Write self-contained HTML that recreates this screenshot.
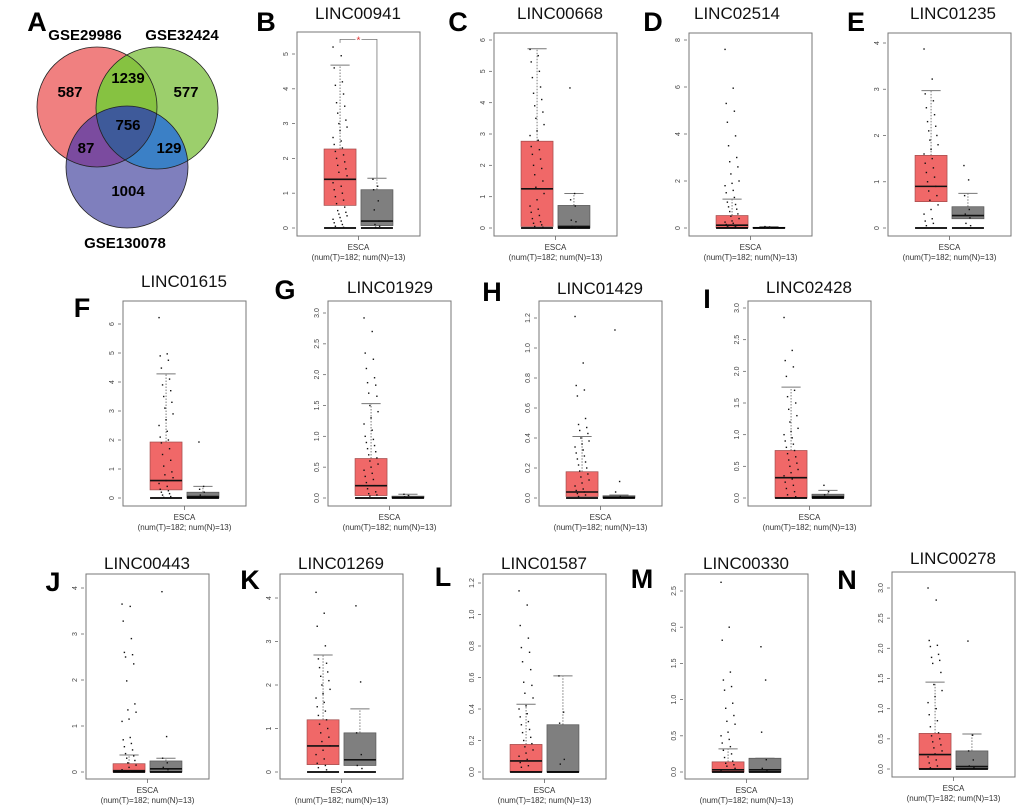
<!DOCTYPE html>
<html><head><meta charset="utf-8"><title>Venn and box plots of LINC genes in ESCA</title>
<style>
html,body{margin:0;padding:0;background:#fff;}
svg{display:block;font-family:"Liberation Sans",Arial,sans-serif;}
</style></head>
<body>
<svg id="fig" width="1020" height="808" viewBox="0 0 1020 808" xmlns="http://www.w3.org/2000/svg">
  <defs>
    <clipPath id="cR"><circle cx="97" cy="107" r="60"/></clipPath>
    <clipPath id="cG"><circle cx="157" cy="108" r="61"/></clipPath>
    <clipPath id="cB"><circle cx="127" cy="167" r="61"/></clipPath>
  </defs>
  <g>
    <text x="37" y="31" font-size="27" font-weight="bold" text-anchor="middle">A</text>
    <circle cx="97" cy="107" r="60" fill="#f08080"/>
    <circle cx="157" cy="108" r="61" fill="#9ccf6c"/>
    <circle cx="127" cy="167" r="61" fill="#7f7fbd"/>
    <g clip-path="url(#cR)"><circle cx="157" cy="108" r="61" fill="#86c241"/></g>
    <g clip-path="url(#cR)"><circle cx="127" cy="167" r="61" fill="#7b4b9f"/></g>
    <g clip-path="url(#cG)"><circle cx="127" cy="167" r="61" fill="#3b80c6"/></g>
    <g clip-path="url(#cR)"><g clip-path="url(#cG)"><circle cx="127" cy="167" r="61" fill="#3e5a9a"/></g></g>
    <circle cx="97" cy="107" r="60" fill="none" stroke="#222" stroke-width="0.8"/>
    <circle cx="157" cy="108" r="61" fill="none" stroke="#222" stroke-width="0.8"/>
    <circle cx="127" cy="167" r="61" fill="none" stroke="#222" stroke-width="0.8"/>
    <g font-size="15" font-weight="bold" text-anchor="middle">
      <text x="85" y="40">GSE29986</text>
      <text x="182" y="40">GSE32424</text>
      <text x="125" y="248">GSE130078</text>
      <text x="70" y="97">587</text>
      <text x="128" y="83">1239</text>
      <text x="186" y="97">577</text>
      <text x="128" y="130">756</text>
      <text x="86" y="153">87</text>
      <text x="169" y="153">129</text>
      <text x="128" y="196">1004</text>
    </g>
  </g>
</svg>
<script>
// ---- data ----
const panelLetters = ["B","C","D","E","F","G","H","I","J","K","L","M","N"];
const genes = ["LINC00941","LINC00668","LINC02514","LINC01235","LINC01615","LINC01929","LINC01429","LINC02428","LINC00443","LINC01269","LINC01587","LINC00330","LINC00278"];
const tickMax  = [5, 6, 8, 4, 6, 3, 1.2, 3, 4, 4, 1.2, 2.5, 3];
const tickStep = [1, 1, 2, 1, 1, 0.5, 0.2, 0.5, 1, 1, 0.2, 0.5, 0.5];
const tickDecimals = [0,0,0,0,0,1,1,1,0,0,1,1,1];
const tumorQ1  = [0.65,0.05,0.02,0.57,0.28,0.04,0.01,0.0,0.0,0.17,0.0,0.0,0.0];
const tumorMed = [1.4,1.25,0.12,0.9,0.6,0.2,0.04,0.32,0.03,0.6,0.07,0.03,0.24];
const tumorQ3  = [2.27,2.77,0.53,1.57,1.93,0.64,0.175,0.75,0.18,1.2,0.175,0.14,0.59];
const tumorUp  = [4.68,5.72,1.23,2.97,4.28,1.53,0.41,1.75,0.37,2.69,0.43,0.32,1.44];
const normalQ1  = [0.07,0.0,0.0,0.2,0.0,0.0,0.0,0.0,0.0,0.15,0.0,0.0,0.0];
const normalMed = [0.2,0.05,0.01,0.27,0.05,0.01,0.005,0.02,0.07,0.28,0.0,0.03,0.04];
const normalQ3  = [1.1,0.72,0.03,0.46,0.2,0.03,0.015,0.06,0.24,0.9,0.3,0.19,0.3];
const normalUp  = [1.43,1.1,0.06,0.75,0.4,0.06,0.02,0.12,0.3,1.45,0.61,0.19,0.58];
const tumorPts = [
 [5.2,4.95,4.6,4.2,4.1,3.85,3.6,3.5,3.3,3.1,3.0,2.9,2.8,2.6,2.5,2.4,2.3,2.2,2.1,2.0,1.9,1.8,1.7,1.6,1.5,1.4,1.3,1.2,1.1,1.0,0.9,0.8,0.7,0.6,0.5,0.45,0.4,0.35,0.3,0.25,0.2,0.15,0.1,0.05,0.02],
 [5.7,5.5,5.3,5.0,4.8,4.5,4.3,4.1,3.9,3.7,3.5,3.3,3.1,2.95,2.8,2.6,2.5,2.35,2.2,2.0,1.9,1.7,1.5,1.3,1.1,0.9,0.7,0.6,0.5,0.4,0.3,0.2,0.15,0.1,0.05,0.02],
 [7.6,5.95,5.3,4.97,4.5,3.92,3.5,3.0,2.82,2.6,2.3,2.0,1.9,1.8,1.6,1.5,1.3,1.1,1.0,0.9,0.8,0.7,0.6,0.5,0.4,0.3,0.25,0.2,0.15,0.1,0.08,0.05,0.03,0.02],
 [3.87,3.22,2.9,2.75,2.6,2.45,2.3,2.2,2.1,2.0,1.9,1.8,1.7,1.6,1.5,1.4,1.3,1.2,1.1,1.0,0.9,0.8,0.7,0.6,0.5,0.4,0.3,0.2,0.15,0.1,0.05],
 [6.22,4.97,4.9,4.75,4.48,4.1,3.9,3.7,3.5,3.3,3.1,2.9,2.7,2.5,2.3,2.1,2.0,1.9,1.7,1.5,1.3,1.1,0.9,0.8,0.7,0.6,0.5,0.4,0.3,0.25,0.2,0.15,0.1,0.05,0.02],
 [2.92,2.7,2.35,2.25,2.1,1.95,1.87,1.83,1.7,1.65,1.5,1.4,1.3,1.2,1.1,1.0,0.95,0.9,0.85,0.8,0.75,0.7,0.65,0.6,0.55,0.5,0.45,0.4,0.35,0.3,0.25,0.2,0.15,0.1,0.07,0.05,0.03],
 [1.21,0.9,0.75,0.72,0.68,0.53,0.49,0.47,0.45,0.43,0.4,0.38,0.36,0.34,0.32,0.3,0.28,0.26,0.24,0.22,0.2,0.18,0.16,0.14,0.12,0.1,0.08,0.06,0.05,0.04,0.03,0.02,0.01],
 [2.85,2.33,2.17,2.07,1.92,1.7,1.6,1.5,1.4,1.3,1.2,1.1,1.05,1.0,0.95,0.9,0.85,0.8,0.75,0.7,0.65,0.6,0.55,0.5,0.45,0.4,0.35,0.3,0.25,0.2,0.15,0.1,0.05,0.02],
 [3.65,3.6,3.28,2.9,2.6,2.55,2.5,2.35,1.98,1.48,1.35,1.3,1.15,1.1,0.75,0.7,0.62,0.55,0.48,0.4,0.35,0.3,0.25,0.2,0.15,0.1,0.05,0.02],
 [4.13,3.65,3.35,2.9,2.6,2.5,2.4,2.3,2.2,2.1,2.0,1.9,1.8,1.7,1.6,1.5,1.4,1.3,1.2,1.1,1.0,0.9,0.8,0.7,0.6,0.5,0.4,0.3,0.2,0.15,0.1,0.05],
 [1.15,1.06,0.93,0.85,0.79,0.76,0.7,0.65,0.57,0.55,0.5,0.47,0.42,0.4,0.37,0.35,0.32,0.3,0.27,0.25,0.22,0.2,0.18,0.16,0.14,0.12,0.1,0.08,0.06,0.04,0.03],
 [2.62,2.0,1.82,1.38,1.27,1.18,1.13,0.95,0.88,0.78,0.7,0.66,0.55,0.5,0.45,0.4,0.35,0.3,0.25,0.2,0.15,0.12,0.1,0.08,0.05,0.03,0.02],
 [3.0,2.8,2.13,2.05,2.03,1.9,1.85,1.8,1.75,1.6,1.4,1.3,1.2,1.1,1.0,0.9,0.8,0.7,0.6,0.55,0.5,0.45,0.4,0.35,0.3,0.25,0.2,0.15,0.1,0.05,0.02]
];
const normalPts = [
 [1.4,1.2,1.1,0.78,0.52,0.2,0.1,0.05,0.02],
 [4.47,1.1,0.9,0.7,0.25,0.2,0.05,0.02],
 [0.06,0.04,0.02,0.01],
 [1.35,1.04,0.7,0.4,0.3,0.22,0.1,0.05],
 [1.93,0.4,0.3,0.2,0.1,0.05],
 [0.06,0.04,0.02,0.01],
 [1.12,0.11,0.04,0.01],
 [0.2,0.1,0.05,0.02],
 [3.92,0.77,0.3,0.2,0.1,0.05],
 [3.82,2.07,0.9,0.4,0.15,0.08],
 [0.61,0.38,0.31,0.08,0.05],
 [1.73,1.27,0.55,0.17,0.05,0.02],
 [2.12,0.56,0.3,0.15,0.05,0.02]
];
const sigStar = [true,false,false,false,false,false,false,false,false,false,false,false,false];

// ---- layout (pixel geometry, not data) ----
const boxLeft   = [297,494,689,888,123,328,539,748,86,280,483,685,892];
const boxTop    = [32,33,33,33,301,301,301,301,574,574,574,574,572];
const boxBottom = [236,236,236,236,506,506,506,506,779,779,779,779,777];
const zeroY     = [228,228,228,228,498,498,498,498,772,772,772,772,769];
const topTickY  = [54,40,40,43,324,313,318,308,588,598,583,591,588];
const titleY    = [19,19,19,19,287,293,294,293,569,569,569,569,564];
const titleX    = [358,560,737,953,184,390,600,809,147,341,544,746,953];
const letterX   = [266,458,653,856,82,285,492,707,53,250,443,642,847];
const letterY   = [31,31,31,31,317,299,301,308,591,589,586,588,589];
const boxW = 123;

const NS = "http://www.w3.org/2000/svg";
const svg = document.getElementById("fig");
function mk(tag, attrs, parent){
  const e = document.createElementNS(NS, tag);
  for (const k in attrs) e.setAttribute(k, attrs[k]);
  (parent||svg).appendChild(e);
  return e;
}

for (let p = 0; p < genes.length; p++) {
  const L = boxLeft[p], T = boxTop[p], B = boxBottom[p];
  const k = (zeroY[p] - topTickY[p]) / tickMax[p];
  const y = v => zeroY[p] - v * k;
  const xRed = L + boxW * 0.35, xGrey = L + boxW * 0.65, bw = boxW * 0.26;
  const g = mk("g", {});
  
  

  const letter = mk("text", {x: letterX[p], y: letterY[p], "font-size": 27, "font-weight": "bold", "text-anchor": "middle"}, g);
  
  
  letter.textContent = panelLetters[p];

  const title = mk("text", {x: titleX[p], y: titleY[p], "font-size": 17, "text-anchor": "middle", fill: "#111"}, g);
  
  
  title.textContent = genes[p];

  const frame = mk("rect", {x: L, y: T, width: boxW, height: B - T, fill: "#fff", stroke: "#777", "stroke-width": 1}, g);
  
  

  const n = Math.round(tickMax[p] / tickStep[p]);
  for (let i = 0; i <= n; i++) {
    const v = i * tickStep[p], ty = y(v);
    const tk = mk("line", {x1: L - 5, x2: L - 2, y1: ty, y2: ty, stroke: "#666", "stroke-width": 0.8}, g);
    
    
    const tl = mk("text", {x: L - 9, y: ty, "font-size": 7, fill: "#444", "text-anchor": "middle", transform: "rotate(-90 " + (L - 9) + " " + ty + ")"}, g);
    
    
    tl.textContent = v.toFixed(tickDecimals[p]);
  }
  const xt = mk("line", {x1: L + boxW/2, x2: L + boxW/2, y1: B, y2: B + 4, stroke: "#666", "stroke-width": 0.8}, g);
  
  
  const xl = mk("text", {x: L + boxW/2, y: B + 14, "font-size": 8, fill: "#333", "text-anchor": "middle"}, g);
  
  
  xl.textContent = "ESCA";
  const cap = mk("text", {x: L + boxW/2, y: B + 24, "font-size": 8, fill: "#333", "text-anchor": "middle"}, g);
  
  
  cap.textContent = "(num(T)=182; num(N)=13)";

  const groups = [
    {name: "tumor", cx: xRed, q1: tumorQ1[p], med: tumorMed[p], q3: tumorQ3[p], up: tumorUp[p], fill: "#f06868", stroke: "#a04a4a", pts: tumorPts[p], jit: 7},
    {name: "normal", cx: xGrey, q1: normalQ1[p], med: normalMed[p], q3: normalQ3[p], up: normalUp[p], fill: "#7f7f7f", stroke: "#555", pts: normalPts[p], jit: 4}
  ];
  groups.forEach(G => {
    const wl = mk("line", {x1: G.cx, x2: G.cx, y1: y(G.q3), y2: y(G.up), stroke: "#444", "stroke-width": 0.7, "stroke-dasharray": "1.5,1.5"}, g);
    
    
    const wc = mk("line", {x1: G.cx - bw*0.3, x2: G.cx + bw*0.3, y1: y(G.up), y2: y(G.up), stroke: "#777", "stroke-width": 1}, g);
    
    
    const bx = mk("rect", {x: G.cx - bw/2, y: y(G.q3), width: bw, height: Math.max(0.8, y(G.q1) - y(G.q3)), fill: G.fill, stroke: G.stroke, "stroke-width": 0.7}, g);
    
    
    const md = mk("line", {x1: G.cx - bw/2, x2: G.cx + bw/2, y1: y(G.med), y2: y(G.med), stroke: "#111", "stroke-width": 1.6}, g);
    
    
    const base = mk("line", {x1: G.cx - bw/2, x2: G.cx + bw/2, y1: y(0), y2: y(0), stroke: "#000", "stroke-width": 1.8}, g);
    
    
    G.pts.forEach((v, i) => {
      const off = (((i * 7) % 13) - 6) / 6 * G.jit;
      const d = mk("rect", {x: G.cx + off - 0.7, y: y(v) - 0.7, width: 1.4, height: 1.4, fill: "#111"}, g);
      
      
    });
  });

  if (sigStar[p]) {
    const topV = tumorPts[p][0] + 0.22;
    const br = mk("polyline", {points: xRed + "," + y(topV - 0.1) + " " + xRed + "," + y(topV) + " " + xGrey + "," + y(topV) + " " + xGrey + "," + y(normalUp[p]), fill: "none", stroke: "#777", "stroke-width": 0.8}, g);
    
    
    const st = mk("rect", {x: L + boxW/2 - 3, y: y(topV) - 3, width: 6, height: 6, fill: "#fff"}, g);
    
    
    const s = mk("text", {x: L + boxW/2, y: y(topV) + 4, "font-size": 10, fill: "#e03030", "text-anchor": "middle"}, g);
    
    
    s.textContent = "*";
  }
}
</script>
</body></html>
